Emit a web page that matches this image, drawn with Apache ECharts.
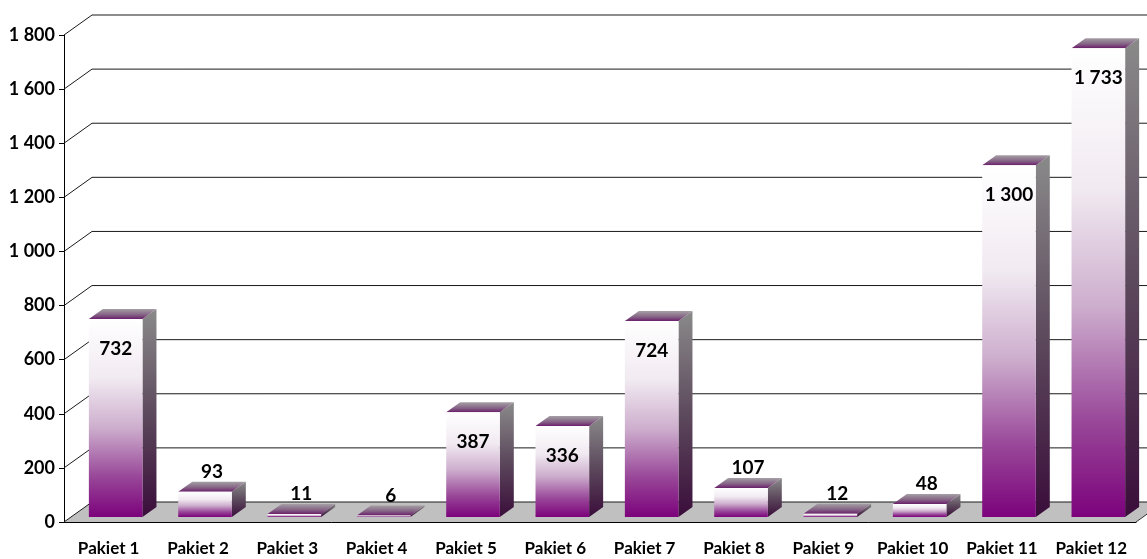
<!DOCTYPE html>
<html>
<head>
<meta charset="utf-8">
<script src="https://cdn.jsdelivr.net/npm/echarts@6/dist/echarts.min.js"></script>
<style>
  html, body { margin: 0; padding: 0; background: #fff; }
  #chart { width: 1147px; height: 559px; }
</style>
</head>
<body>
<div id="chart"></div>
<script>
const categories = ['Pakiet 1', 'Pakiet 2', 'Pakiet 3', 'Pakiet 4', 'Pakiet 5', 'Pakiet 6',
  'Pakiet 7', 'Pakiet 8', 'Pakiet 9', 'Pakiet 10', 'Pakiet 11', 'Pakiet 12']
const values = [732, 93, 11, 6, 387, 336, 724, 107, 12, 48, 1300, 1733]
const yTicks = [0, 200, 400, 600, 800, 1000, 1200, 1400, 1600, 1800]

const FONT = "Lato, 'Noto Sans', sans-serif"
// 3d depth of the walls and of the bars (pixels)
const WALL_DX = 28, WALL_DY = -20
const BAR_OFF_X = 7, BAR_OFF_Y = -5
const BAR_DX = 14, BAR_DY = -10

const fmt = v => String(v).replace(/\B(?=(\d{3})+(?!\d))/g, ' ')

const chart = echarts.init(document.getElementById('chart'))

const frontFill = new echarts.graphic.LinearGradient(0, 0, 0, 1, [
  { offset: 0, color: '#ffffff' },
  { offset: 0.3, color: '#f1eaf1' },
  { offset: 0.55, color: '#cdaecd' },
  { offset: 0.8, color: '#984698' },
  { offset: 1, color: '#7c027c' }
])
const sideFill = new echarts.graphic.LinearGradient(0, 0, 0, 1, [
  { offset: 0, color: '#8a8a8a' },
  { offset: 0.5, color: '#5d4a5d' },
  { offset: 1, color: '#3a0d3a' }
])
const topFill = new echarts.graphic.LinearGradient(0, 0, 0, 1, [
  { offset: 0, color: '#a4a0a4' },
  { offset: 0.6, color: '#846084' },
  { offset: 1, color: '#6a1f6a' }
])

function renderFloor(params, api) {
  const cs = params.coordSys
  const y = api.coord([0, 0])[1]
  const x0 = cs.x, x1 = cs.x + cs.width
  return {
    type: 'group',
    children: [
      {
        type: 'polygon',
        shape: { points: [[x0, y], [x1, y], [x1 + WALL_DX, y + WALL_DY], [x0 + WALL_DX, y + WALL_DY]] },
        style: { fill: '#c0c0c0' }
      },
      {
        type: 'line',
        shape: { x1: x1, y1: y, x2: x1 + WALL_DX, y2: y + WALL_DY },
        style: { stroke: '#333', lineWidth: 1 }
      }
    ]
  }
}

function renderGrid(params, api) {
  const cs = params.coordSys
  const y = api.coord([0, api.value(1)])[1]
  const x0 = cs.x
  return {
    type: 'polyline',
    shape: { points: [[x0, y], [x0 + WALL_DX, y + WALL_DY], [x0 + cs.width + WALL_DX, y + WALL_DY]] },
    style: { stroke: '#1a1a1a', lineWidth: 1, fill: null }
  }
}

function renderBar(params, api) {
  const i = api.value(0), v = api.value(1)
  const base = api.coord([i, 0])
  const top = api.coord([i, v])
  const bw = api.size([1, 0])[0] * 0.6
  const cx = base[0] + BAR_OFF_X
  const x0 = cx - bw / 2, x1 = cx + bw / 2
  const yb = base[1] + BAR_OFF_Y, yt = top[1] + BAR_OFF_Y
  const h = yb - yt
  let lx = cx, ly = yt + 30
  if (h < 40) { lx = cx + BAR_DX / 2; ly = yt + BAR_DY - 10 }
  return {
    type: 'group',
    children: [
      {
        type: 'polygon',
        shape: { points: [[x1, yt], [x1 + BAR_DX, yt + BAR_DY], [x1 + BAR_DX, yb + BAR_DY], [x1, yb]] },
        style: { fill: sideFill }
      },
      {
        type: 'polygon',
        shape: { points: [[x0, yt], [x1, yt], [x1 + BAR_DX, yt + BAR_DY], [x0 + BAR_DX, yt + BAR_DY]] },
        style: { fill: topFill }
      },
      {
        type: 'rect',
        shape: { x: x0, y: yt, width: bw, height: Math.max(h, 1) },
        style: { fill: frontFill }
      },
      {
        type: 'text',
        style: {
          text: fmt(v), x: lx, y: ly, align: 'center', verticalAlign: 'middle',
          fill: '#000', fontSize: 19, fontWeight: 'bold', fontFamily: FONT
        }
      }
    ]
  }
}

const option = {
  animation: false,
  grid: { left: 64, right: 11, top: 35, bottom: 37 },
  xAxis: {
    type: 'category',
    data: categories,
    axisLine: { lineStyle: { color: '#000', width: 1 } },
    axisTick: { length: 7, lineStyle: { color: '#000' } },
    axisLabel: { interval: 0, margin: 18, color: '#000', fontSize: 17, fontWeight: 'bold', fontFamily: FONT }
  },
  yAxis: {
    type: 'value',
    min: 0,
    max: 1800,
    interval: 200,
    axisLine: { show: true, lineStyle: { color: '#000', width: 1 } },
    axisTick: { show: true, length: 5, lineStyle: { color: '#000' } },
    splitLine: { show: false },
    axisLabel: { margin: 9, color: '#000', fontSize: 18, fontWeight: 'bold', fontFamily: FONT, formatter: fmt }
  },
  series: [
    { type: 'custom', renderItem: renderFloor, data: [[0, 0]], clip: false, silent: true, z: 1 },
    { type: 'custom', renderItem: renderGrid, data: yTicks.map(t => [0, t]), clip: false, silent: true, z: 2 },
    { type: 'custom', renderItem: renderBar, data: values.map((v, i) => [i, v]), clip: false, z: 3 }
  ]
}

chart.setOption(option)
</script>
</body>
</html>
